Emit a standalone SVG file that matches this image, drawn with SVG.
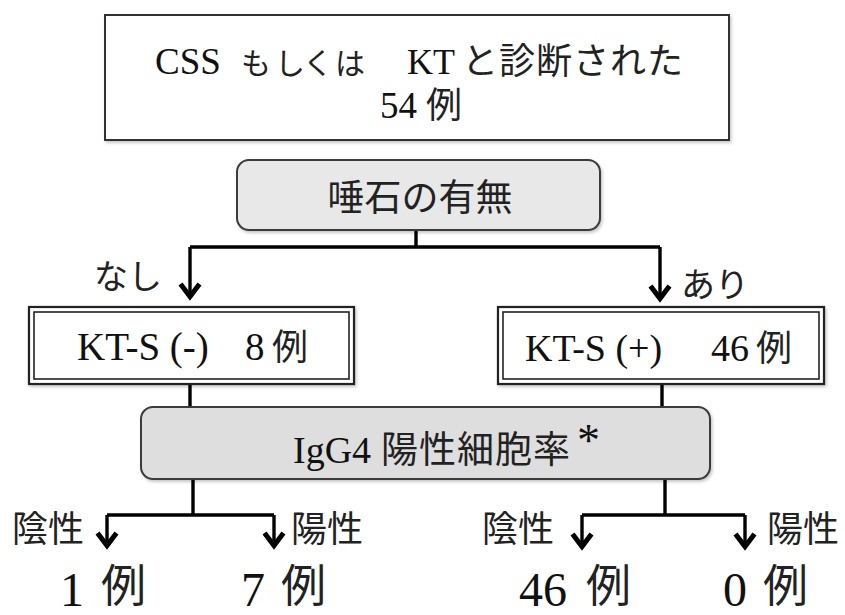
<svg xmlns="http://www.w3.org/2000/svg" width="845" height="615" viewBox="0 0 845 615">
  <defs>
    <filter id="sh" x="-5%" y="-10%" width="110%" height="130%">
      <feDropShadow dx="1.5" dy="2" stdDeviation="1.5" flood-color="#000" flood-opacity="0.22"/>
    </filter>
    <marker id="ah" markerUnits="userSpaceOnUse" viewBox="-20 -14 24 28" markerWidth="24" markerHeight="28" refX="0" refY="0" orient="auto" overflow="visible">
      <path d="M -14 -9.5 L -1.5 0 L -14 9.5" fill="none" stroke="#000" stroke-width="5" stroke-linejoin="miter" stroke-miterlimit="10"/>
    </marker>
    <style>
      .lat { font-family: "Liberation Serif", "Times New Roman", serif; fill: #111; }
      .jp { font-family: "Noto Sans CJK JP", "Noto Sans CJK SC", sans-serif; fill: #222; }
      .box { fill: #fff; stroke: #333; stroke-width: 2; }
      .gray { fill: #e8e8e8; stroke: #3a3a3a; stroke-width: 2; }
      .gray2 { fill: #dedede; stroke: #3a3a3a; stroke-width: 2; }
      .dbl-out { fill: #fff; stroke: #222; stroke-width: 2.2; }
      .dbl-in { fill: none; stroke: #222; stroke-width: 1.6; }
      .conn { fill: none; stroke: #000; stroke-width: 3.4; stroke-linejoin: miter; }
      .arr { marker-end: url(#ah); }
    </style>
  </defs>
  <rect width="845" height="615" fill="#fff"/>

  <g id="connectors">
    <path class="conn" d="M 416 230 V 247 M 190 247 H 660 M 190 384 V 407 M 662 384 V 407 M 193 479 V 515 M 107 515 H 274 M 665 479 V 515 M 582 515 H 745"/>
    <path class="conn arr" d="M 190 247 V 298"/>
    <path class="conn arr" d="M 660 247 V 300"/>
    <path class="conn arr" d="M 107 515 V 547"/>
    <path class="conn arr" d="M 274 515 V 547"/>
    <path class="conn arr" d="M 582 515 V 548"/>
    <path class="conn arr" d="M 745 515 V 548"/>
  </g>

  <g id="node-top">
    <rect class="box" x="105" y="15" width="624" height="125" filter="url(#sh)"/>
    <text y="74"><tspan class="lat" x="155" font-size="37">CSS</tspan><tspan class="jp" x="241 275 303 335" font-size="30">もしくは</tspan><tspan class="lat" x="407" font-size="36">KT</tspan><tspan class="jp" x="462" font-size="36" letter-spacing="1">と診断された</tspan></text>
    <text y="118"><tspan class="lat" x="380" font-size="37">54</tspan><tspan class="jp" x="426" font-size="36">例</tspan></text>
  </g>

  <g id="node-decision">
    <rect class="gray" x="237" y="160" width="363" height="70" rx="12" filter="url(#sh)"/>
    <text class="jp" x="420" y="211" font-size="37" text-anchor="middle">唾石の有無</text>
  </g>

  <g id="label-nashi">
    <text class="jp" x="94" y="289" font-size="34">なし</text>
  </g>
  <g id="label-ari">
    <text class="jp" x="681" y="297" font-size="34">あり</text>
  </g>

  <g id="node-kts-neg">
    <rect class="dbl-out" x="29" y="307" width="325" height="77" filter="url(#sh)"/>
    <rect class="dbl-in" x="34" y="312" width="315" height="67"/>
    <text y="360"><tspan class="lat" x="77" font-size="39">KT-S (-)</tspan><tspan class="lat" x="245" font-size="39">8</tspan><tspan class="jp" x="272" font-size="36">例</tspan></text>
  </g>

  <g id="node-kts-pos">
    <rect class="dbl-out" x="498" y="307" width="326" height="77" filter="url(#sh)"/>
    <rect class="dbl-in" x="503" y="312" width="316" height="67"/>
    <text y="361"><tspan class="lat" x="525" font-size="38">KT-S (+)</tspan><tspan class="lat" x="711" font-size="38">46</tspan><tspan class="jp" x="756" font-size="36">例</tspan></text>
  </g>

  <g id="node-igg4">
    <rect class="gray2" x="141" y="407" width="569" height="72" rx="12" filter="url(#sh)"/>
    <text y="463"><tspan class="lat" x="293" font-size="38">IgG4</tspan><tspan class="jp" x="381" font-size="37" letter-spacing="1">陽性細胞率</tspan></text>
    <text class="lat" x="577" y="456" font-size="46">*</text>
  </g>

  <g id="labels-bottom">
    <text class="jp" x="12" y="542" font-size="36">陰性</text>
    <text class="jp" x="291" y="542" font-size="36">陽性</text>
    <text class="jp" x="482" y="542" font-size="36">陰性</text>
    <text class="jp" x="767" y="542" font-size="36">陽性</text>
  </g>

  <g id="result-1">
    <text><tspan class="lat" x="60" y="606" font-size="48">1</tspan><tspan class="jp" x="101" y="602" font-size="45">例</tspan></text>
  </g>
  <g id="result-2">
    <text><tspan class="lat" x="241" y="606" font-size="48">7</tspan><tspan class="jp" x="281" y="602" font-size="45">例</tspan></text>
  </g>
  <g id="result-3">
    <text><tspan class="lat" x="519" y="606" font-size="48">46</tspan><tspan class="jp" x="586" y="602" font-size="45">例</tspan></text>
  </g>
  <g id="result-4">
    <text><tspan class="lat" x="723" y="606" font-size="48">0</tspan><tspan class="jp" x="763" y="602" font-size="45">例</tspan></text>
  </g>
</svg>
